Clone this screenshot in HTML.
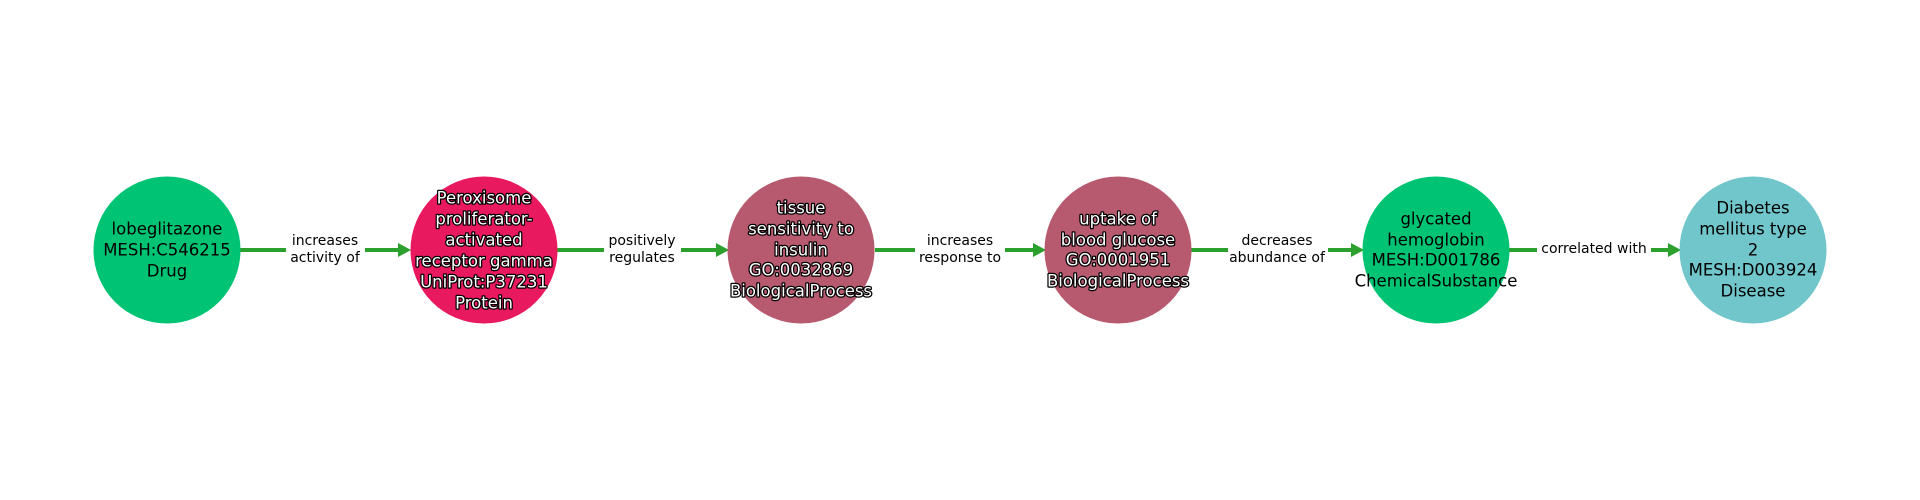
<!DOCTYPE html>
<html><head><meta charset="utf-8"><style>
html,body{margin:0;padding:0;background:#fff;}
svg{display:block;font-family:"DejaVu Sans","Liberation Sans",sans-serif;}
.n{font-size:16.5px;text-anchor:middle;dominant-baseline:central;fill:#000;}
.o{font-size:16.5px;text-anchor:middle;dominant-baseline:central;fill:#fff;stroke:#000;stroke-width:2.5px;paint-order:stroke;stroke-linejoin:round;}
.e{font-size:14px;text-anchor:middle;dominant-baseline:central;fill:#000;}
</style></head><body>
<svg width="1920" height="500" viewBox="0 0 1920 500" xmlns="http://www.w3.org/2000/svg">
<g stroke="#2ca02c" stroke-width="4">
<line x1="240" y1="250" x2="400" y2="250"/>
<line x1="557" y1="250" x2="718" y2="250"/>
<line x1="875" y1="250" x2="1035" y2="250"/>
<line x1="1191" y1="250" x2="1353" y2="250"/>
<line x1="1509" y1="250" x2="1670" y2="250"/>
</g>
<g fill="#2ca02c">
<polygon points="398,243 411,250 398,257"/>
<polygon points="716,243 729,250 716,257"/>
<polygon points="1033,243 1046,250 1033,257"/>
<polygon points="1351,243 1364,250 1351,257"/>
<polygon points="1668,243 1681,250 1668,257"/>
</g>
<g fill="#fff">
<rect x="286" y="232" width="79" height="36"/>
<rect x="604" y="232" width="77" height="36"/>
<rect x="915" y="232" width="90" height="36"/>
<rect x="1228" y="232" width="100" height="36"/>
<rect x="1537" y="238" width="114" height="24"/>
</g>
<text class="e" x="325" y="241">increases</text><text class="e" x="325" y="258">activity of</text>
<text class="e" x="642" y="241">positively</text><text class="e" x="642" y="258">regulates</text>
<text class="e" x="960" y="241">increases</text><text class="e" x="960" y="258">response to</text>
<text class="e" x="1277" y="241">decreases</text><text class="e" x="1277" y="258">abundance of</text>
<text class="e" x="1594" y="249">correlated with</text>

<circle cx="167" cy="250" r="73.5" fill="#00c373"/>
<circle cx="484" cy="250" r="73.5" fill="#e8195f"/>
<circle cx="801" cy="250" r="73.5" fill="#b85a6f"/>
<circle cx="1118" cy="250" r="73.5" fill="#b85a6f"/>
<circle cx="1436" cy="250" r="73.5" fill="#00c373"/>
<circle cx="1753" cy="250" r="73.5" fill="#70c6cb"/>

<text class="n" x="167" y="229">lobeglitazone</text>
<text class="n" x="167" y="250">MESH:C546215</text>
<text class="n" x="167" y="271">Drug</text>

<text class="o" x="484" y="198">Peroxisome</text>
<text class="o" x="484" y="219">proliferator-</text>
<text class="o" x="484" y="240">activated</text>
<text class="o" x="484" y="261">receptor gamma</text>
<text class="o" x="484" y="282">UniProt:P37231</text>
<text class="o" x="484" y="303">Protein</text>

<text class="o" x="801" y="208">tissue</text>
<text class="o" x="801" y="229">sensitivity to</text>
<text class="o" x="801" y="250">insulin</text>
<text class="o" x="801" y="270">GO:0032869</text>
<text class="o" x="801" y="291">BiologicalProcess</text>

<text class="o" x="1118" y="219">uptake of</text>
<text class="o" x="1118" y="240">blood glucose</text>
<text class="o" x="1118" y="260">GO:0001951</text>
<text class="o" x="1118" y="281">BiologicalProcess</text>

<text class="n" x="1436" y="219">glycated</text>
<text class="n" x="1436" y="240">hemoglobin</text>
<text class="n" x="1436" y="260">MESH:D001786</text>
<text class="n" x="1436" y="281">ChemicalSubstance</text>

<text class="n" x="1753" y="208">Diabetes</text>
<text class="n" x="1753" y="229">mellitus type</text>
<text class="n" x="1753" y="250">2</text>
<text class="n" x="1753" y="270">MESH:D003924</text>
<text class="n" x="1753" y="291">Disease</text>
</svg>
</body></html>
